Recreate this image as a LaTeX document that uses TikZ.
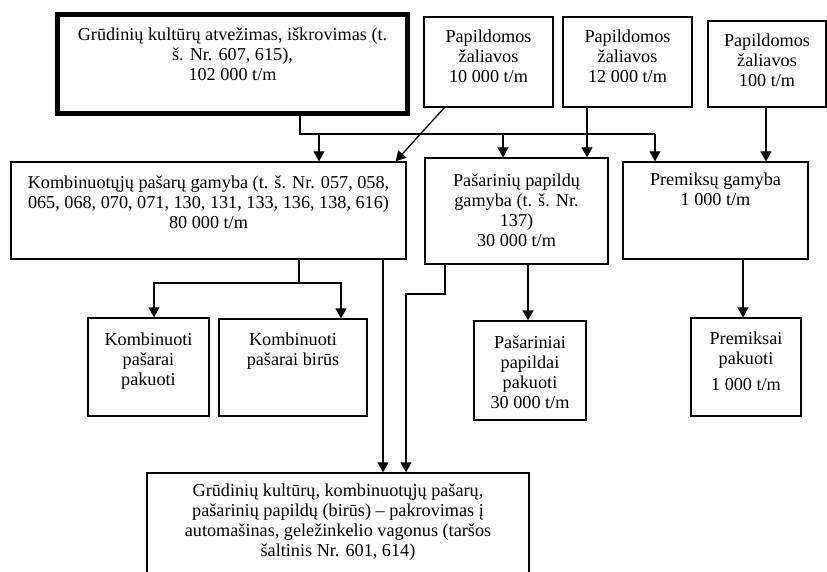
\documentclass[tikz,border=0pt]{standalone}
\usepackage{fontspec}
\setmainfont{Liberation Serif}
\usetikzlibrary{arrows.meta,calc}
\begin{document}
\begin{tikzpicture}[x=1pt,y=-1pt,
  box/.style={draw,line width=1.3pt,rectangle,inner sep=0pt},
  thickbox/.style={draw,line width=5pt,rectangle,inner sep=0pt},
  txt/.style={inner sep=0pt,align=center,anchor=north,font=\fontsize{18.2}{20}\selectfont},
  conn/.style={line width=1.3pt},
  arr/.style={line width=1.3pt,-{Triangle[length=10pt,width=11pt]}}]
\useasboundingbox (0,0) rectangle (827,572);
\clip (0,0) rectangle (827,572);
% boxes: (x1,y1)-(x2,y2)
\newcommand\mkbox[6]{\node[#6,minimum width={#4-#2},minimum height={#5-#3}] (#1) at ({(#2+#4)/2},{(#3+#5)/2}) {};}
% text placed by first baseline
\newcommand\mktxt[4]{\node[txt] (#1) at (#2.north |- 0,{#3-16}) {\rule{0pt}{16pt}#4};}
\mkbox{top}{57.5}{14.8}{407.5}{113.5}{thickbox}
\mkbox{pa}{424}{17}{553}{107}{box}
\mkbox{pb}{563}{17}{692}{107}{box}
\mkbox{pc}{708}{21}{826}{107}{box}
\mkbox{komb}{11}{162}{406}{259}{box}
\mkbox{pas}{425}{158}{608}{264}{box}
\mkbox{prem}{623}{162}{808}{259}{box}
\mkbox{kp}{88}{318}{209}{416}{box}
\mkbox{kb}{219}{319}{367}{416}{box}
\mkbox{pp}{474}{321}{586}{420}{box}
\mkbox{pk}{691}{318}{801}{416}{box}
\mkbox{bot}{147}{473}{529}{620}{box}
% texts
\mktxt{ttop}{top}{40}{Grūdinių kultūrų atvežimas, iškrovimas (t.\\ š. Nr. 607, 615),\\ 102 000 t/m}
\mktxt{tpa}{pa}{42.7}{Papildomos\\žaliavos\\10 000 t/m}
\mktxt{tpb}{pb}{42.7}{Papildomos\\žaliavos\\12 000 t/m}
\mktxt{tpc}{pc}{46}{Papildomos\\žaliavos\\100 t/m}
\mktxt{tkomb}{komb}{188.3}{Kombinuotųjų pašarų gamyba (t. š. Nr. 057, 058,\\065, 068, 070, 071, 130, 131, 133, 136, 138, 616)\\80 000 t/m}
\mktxt{tpas}{pas}{186.7}{Pašarinių papildų\\gamyba (t. š. Nr.\\137)\\30 000 t/m}
\mktxt{tprem}{prem}{185.7}{Premiksų gamyba\\1 000 t/m}
\mktxt{tkp}{kp}{345}{Kombinuoti\\pašarai\\pakuoti}
\mktxt{tkb}{kb}{345}{Kombinuoti\\pašarai birūs}
\mktxt{tpp}{pp}{348}{Pašariniai\\papildai\\pakuoti\\30 000 t/m}
\mktxt{tpk}{pk}{344}{Premiksai\\pakuoti\\[6.5pt]1 000 t/m}
\mktxt{tbot}{bot}{496.7}{Grūdinių kultūrų, kombinuotųjų pašarų,\\pašarinių papildų (birūs) – pakrovimas į\\automašinas, geležinkelio vagonus (taršos\\šaltinis Nr. 601, 614)}
% connectors
\coordinate (j1) at (300,134);
\coordinate (j2) at (655,134);
\draw[conn] (top.south -| j1) -- (j1) -- (j2);
\draw[arr] (j2) -- (j2 |- prem.north);
\draw[arr] (319,134) -- (319,0 |- komb.north);
\draw[arr] (503,134) -- (503,0 |- pas.north);
\draw[arr] ([xshift=21pt]pa.south west) -- ([xshift=-11pt]komb.north east);
\draw[arr] (587,0 |- pb.south) -- (587,0 |- pas.north);
\draw[arr] (766,0 |- pc.south) -- (766,0 |- prem.north);
% below komb
\coordinate (k1) at (299,283);
\draw[conn] (k1 |- komb.south) -- (k1);
\draw[arr] (k1) -| (154,0 |- kp.north);
\draw[arr] (k1) -| (341,0 |- kb.north);
\draw[arr] (383,0 |- komb.south) -- (383,0 |- bot.north);
\coordinate (s1) at (445,294);
\draw[arr] (s1 |- pas.south) -- (s1) -| (406,0 |- bot.north);
\draw[arr] (528,0 |- pas.south) -- (528,0 |- pp.north);
\draw[arr] (743,0 |- prem.south) -- (743,0 |- pk.north);
\end{tikzpicture}
\end{document}
